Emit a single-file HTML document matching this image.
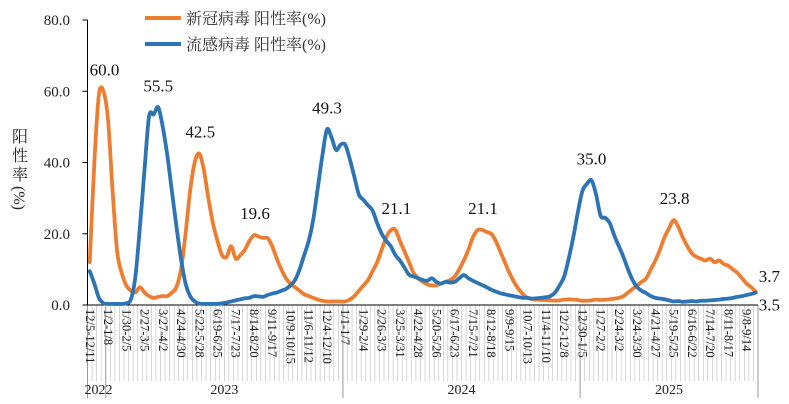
<!DOCTYPE html>
<html><head><meta charset="utf-8">
<style>
html,body{margin:0;padding:0;background:#fff;}
svg{display:block;font-family:"Liberation Serif","Noto Serif CJK SC",serif;}
</style></head>
<body>
<svg id="chart" width="789" height="404" viewBox="0 0 789 404">
  <g id="grid"></g>
  <g id="axes"></g>
  <g id="series"></g>
  <g id="labels"></g>
  <g>
    <g>
      <line x1="145" y1="18" x2="181" y2="18" stroke="#ED7D31" stroke-width="4"/>
      <text x="186" y="24" font-size="16" fill="#333" font-family="'Liberation Serif','Noto Serif CJK SC',serif">新冠病毒 阳性率(%)</text>
    </g>
    <g>
      <line x1="145" y1="44" x2="181" y2="44" stroke="#2E74B5" stroke-width="4"/>
      <text x="186" y="50" font-size="16" fill="#333" font-family="'Liberation Serif','Noto Serif CJK SC',serif">流感病毒 阳性率(%)</text>
    </g>
  </g>
  <g font-size="16" fill="#222" font-family="'Liberation Serif','Noto Serif CJK SC',serif">
    <text x="12" y="142">阳</text>
    <text x="12" y="161">性</text>
    <text x="12" y="180">率</text>
    <text transform="translate(14,186) rotate(90)" font-size="16">(%)</text>
  </g>
</svg>
<script>
const yTicks = [0, 20, 40, 60, 80];
const weekLabels = ["12/5-12/11","1/2-1/8","1/30-2/5","2/27-3/5","3/27-4/2","4/24-4/30","5/22-5/28","6/19-6/25","7/17-7/23","8/14-8/20","9/11-9/17","10/9-10/15","11/6-11/12","12/4-12/10","1/1-1/7","1/29-2/4","2/26-3/3","3/25-3/31","4/22-4/28","5/20-5/26","6/17-6/23","7/15-7/21","8/12-8/18","9/9-9/15","10/7-10/13","11/4-11/10","12/2-12/8","12/30-1/5","1/27-2/2","2/24-3/2","3/24-3/30","4/21-4/27","5/19-5/25","6/16-6/22","7/14-7/20","8/11-8/17","9/8-9/14"];
const years = ["2022","2023","2024","2025"];
const yearStarts = [0, 4, 56, 108];
const covid = [12,40,59,60,52,32,15,9,5.5,4,3.5,5,3.5,2.5,2,2.3,2.5,2.5,3.5,5,10,20,32,40,42.5,38,30,23,18,14,13.5,16.5,13,14,15.5,18,19.6,19.2,18.8,18.8,16.5,13,10,7.5,6,5,4,3,2.5,2,1.5,1.2,1,1,1,1,1,1.5,2.5,4,5.5,7,9.5,12,15.5,19,21,21.1,18,15,12,9,7.5,6.5,5.8,5.5,5.5,6,6.5,7,8,10,12.5,15.5,19,21,21.1,20.5,20,18,15,12,9,6.5,4.5,3,2,1.6,1.5,1.4,1.4,1.3,1.2,1.3,1.5,1.6,1.5,1.4,1.2,1.2,1.3,1.5,1.4,1.5,1.6,1.8,2,2.5,3.5,4.5,5.5,6.5,7.5,10,12.5,15.5,19,21.5,23.8,22,19,16.5,14.5,13.5,13,12.5,13,12,12.5,11.5,11,10,9,7.5,6,5,3.7];
const flu = [9.5,6,2,0.5,0.3,0.3,0.3,0.3,0.5,1.5,8,22,38,53,53.5,55.5,50,42,32,22,13,6,2.5,1,0.4,0.3,0.3,0.3,0.3,0.5,0.7,1,1.3,1.6,1.9,2,2.5,2.4,2.3,2.8,3.2,3.5,4,4.5,5.5,7,10,14,18,24,33,42,49.3,47,43.5,45,45,41,36,31,29.5,28,26.5,23,20,18,16.5,14,12.5,10.5,8.5,8,7.5,7,6.8,7.5,6.5,6,6.5,6.3,6.5,7.5,8.4,7.5,6.8,6.2,5.6,5,4.3,3.8,3.3,3,2.7,2.5,2.2,2,2,1.8,1.9,2,2.2,2.5,3.5,5.5,8,13,19,26,32,34,35,31,25,24.5,23,19.5,16.5,13.5,10,7,5,4,3.3,2.5,2,1.8,1.6,1.3,1,1.1,0.9,1,1.1,1,1.2,1.2,1.3,1.4,1.5,1.7,1.8,2,2.3,2.5,2.8,3.1,3.5];
const covidPeakIdx = [3, 24, 36, 67, 86, 128];
const fluPeakIdx = [15, 52, 110];

const NS = "http://www.w3.org/2000/svg";
const N = covid.length;
const X0 = 87.5, X1 = 758, Y0 = 305, Y1 = 20, YMAX = 80;
const cw = (X1 - X0) / N;
const xAt = i => X0 + (i + 0.5) * cw;
const xEdge = i => X0 + i * cw;
const yAt = v => Y0 - v / YMAX * (Y0 - Y1);
function mk(tag, attrs, parent) {
  const e = document.createElementNS(NS, tag);
  for (const k in attrs) e.setAttribute(k, attrs[k]);
  parent.appendChild(e);
  return e;
}
const grid = document.getElementById('grid');
const axes = document.getElementById('axes');
const series = document.getElementById('series');
const labels = document.getElementById('labels');

for (let i = 0; i <= N; i++) {
  const isYear = yearStarts.includes(i) || i === N;
  const l = mk('line', {x1: xEdge(i), x2: xEdge(i), y1: Y0, y2: isYear ? 398 : 381, stroke: isYear ? '#999' : '#bbb', 'stroke-width': isYear ? 1 : 0.6}, grid);
  
  
}
const yAxis = mk('line', {x1: X0, x2: X0, y1: Y1, y2: Y0, stroke: '#000', 'stroke-width': 1}, axes);


const xAxis = mk('line', {x1: X0, x2: X1, y1: Y0, y2: Y0, stroke: '#000', 'stroke-width': 1}, axes);


yTicks.forEach(v => {
  const t = mk('line', {x1: X0 - 5, x2: X0, y1: yAt(v), y2: yAt(v), stroke: '#000'}, axes);
  
  
  const tx = mk('text', {x: 70, y: yAt(v) + 5, 'text-anchor': 'end', 'font-size': 15, fill: '#222'}, axes);
  tx.textContent = v.toFixed(1);
  
  
});
weekLabels.forEach((s, k) => {
  const i = k * 4;
  const t = mk('text', {transform: `translate(${xAt(i) - 4},309) rotate(90)`, 'font-size': 12.5, fill: '#222'}, axes);
  t.textContent = s;
  
  
});
years.forEach((y, k) => {
  const a = xEdge(yearStarts[k]);
  const b = xEdge(k + 1 < yearStarts.length ? yearStarts[k + 1] : N);
  const t = mk('text', {x: k === 0 ? a - 3 : (a + b) / 2, y: 394, 'text-anchor': k === 0 ? 'start' : 'middle', 'font-size': 14, fill: '#222'}, axes);
  t.textContent = y;
  
  
});
function path(arr, color, name) {
  const P = arr.map((v, i) => [xAt(i), yAt(v)]);
  let d = 'M' + P[0][0].toFixed(2) + ' ' + P[0][1].toFixed(2);
  const t = 0.16;
  for (let i = 0; i < P.length - 1; i++) {
    const p0 = P[Math.max(0, i - 1)], p1 = P[i], p2 = P[i + 1], p3 = P[Math.min(P.length - 1, i + 2)];
    const c1 = [p1[0] + (p2[0] - p0[0]) * t, p1[1] + (p2[1] - p0[1]) * t];
    const c2 = [p2[0] - (p3[0] - p1[0]) * t, p2[1] - (p3[1] - p1[1]) * t];
    d += ` C${c1[0].toFixed(2)} ${c1[1].toFixed(2)} ${c2[0].toFixed(2)} ${c2[1].toFixed(2)} ${p2[0].toFixed(2)} ${p2[1].toFixed(2)}`;
  }
  const p = mk('path', {d, fill: 'none', stroke: color, 'stroke-width': 3.8, 'stroke-linejoin': 'round', 'stroke-linecap': 'round'}, series);
  
  
}
path(covid, '#ED7D31', 'covid-line');
path(flu, '#2E74B5', 'flu-line');
function label(i, v, dx, dy, anchor) {
  const t = mk('text', {x: xAt(i) + dx, y: yAt(v) + dy, 'text-anchor': anchor, 'font-size': 17, fill: '#111'}, labels);
  t.textContent = v.toFixed(1);
  
  
}
covidPeakIdx.forEach(i => label(i, covid[i], 1, -16, 'middle'));
fluPeakIdx.forEach(i => label(i, flu[i], 0, -16, 'middle'));
label(N - 1, covid[N - 1], 3, -10, 'start');
label(N - 1, flu[N - 1], 3, 18, 'start');
</script>
</body></html>
